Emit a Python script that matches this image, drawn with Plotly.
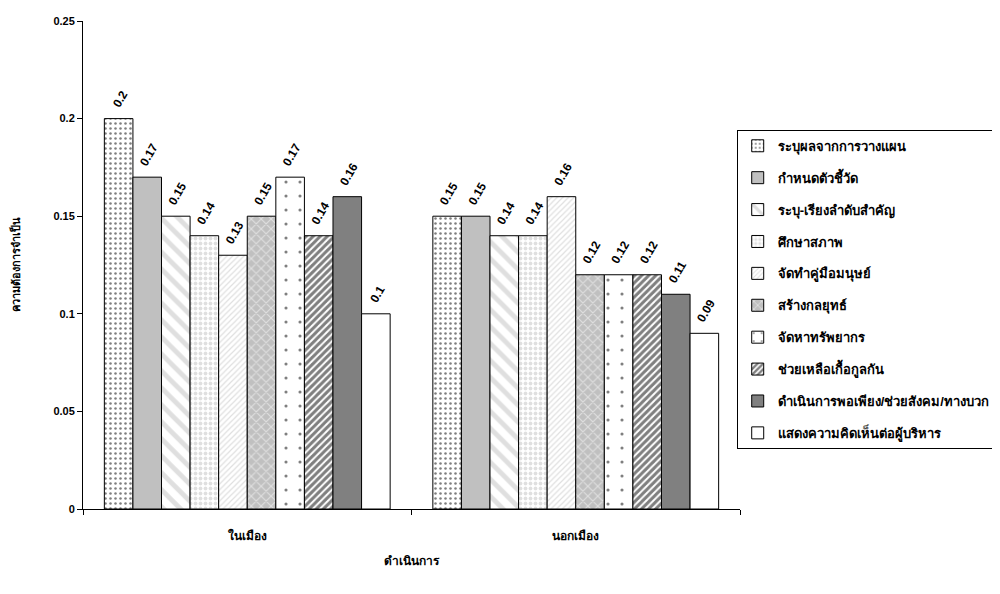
import plotly.graph_objects as go

areas = ["ในเมือง", "นอกเมือง"]

series_names = [
    "ระบุผลจากการวางแผน",
    "กำหนดตัวชี้วัด",
    "ระบุ-เรียงลำดับสำคัญ",
    "ศึกษาสภาพ",
    "จัดทำคู่มือมนุษย์",
    "สร้างกลยุทธ์",
    "จัดหาทรัพยากร",
    "ช่วยเหลือเกื้อกูลกัน",
    "ดำเนินการพอเพียง/ช่วยสังคม/ทางบวก",
    "แสดงความคิดเห็นต่อผู้บริหาร",
]

in_city = [0.2, 0.17, 0.15, 0.14, 0.13, 0.15, 0.17, 0.14, 0.16, 0.1]
out_city = [0.15, 0.15, 0.14, 0.14, 0.16, 0.12, 0.12, 0.12, 0.11, 0.09]

# fill look for each series (bg colour, pattern shape, pattern colour, size, solidity)
styles = [
    ("white", ".", "black", 5, 0.2),
    ("#c0c0c0", "", "black", 8, 0.3),
    ("white", "\\", "#c0c0c0", 12, 0.4),
    ("white", ".", "#c0c0c0", 5, 0.45),
    ("white", "/", "#c0c0c0", 4, 0.3),
    ("#c0c0c0", "x", "white", 7, 0.3),
    ("white", ".", "black", 14, 0.04),
    ("white", "/", "black", 5, 0.6),
    ("#808080", "", "black", 8, 0.3),
    ("white", "", "black", 8, 0.3),
]

font_family = "Liberation Sans, Arial, Noto Sans, sans-serif"

fig = go.Figure()
for i, name in enumerate(series_names):
    bg, shape, fg, size, sol = styles[i]
    vals = [in_city[i], out_city[i]]
    fig.add_trace(go.Bar(
        x=areas,
        y=vals,
        name=name,
        legendgroup=str(i),
        text=["\u00a0\u00a0<b>%s</b>" % v for v in vals],
        textposition="outside",
        textangle=-60,
        constraintext="none",
        textfont=dict(size=12, color="black", family=font_family),
        cliponaxis=False,
        marker=dict(
            color=bg,
            line=dict(color="black", width=1),
            pattern=dict(shape=shape, fgcolor=fg, bgcolor=bg, size=size, solidity=sol),
        ),
    ))

fig.update_layout(
    width=1000,
    height=594,
    barmode="group",
    bargap=0.13,
    bargroupgap=0,
    plot_bgcolor="white",
    paper_bgcolor="white",
    font=dict(family=font_family, size=11, color="black", weight="bold"),
    margin=dict(l=75, r=268, t=13, b=93, autoexpand=False),
    showlegend=True,
    legend=dict(
        x=0.995, y=0.777, xanchor="left", yanchor="top",
        bordercolor="black", borderwidth=1, bgcolor="white",
        font=dict(size=13, family=font_family, weight="bold"),
        tracegroupgap=12,
        traceorder="grouped",
        itemwidth=30,
    ),
)

fig.update_xaxes(
    showline=True, linecolor="black", linewidth=1,
    ticks="outside", tickson="boundaries", ticklen=5, tickcolor="black",
    ticklabelstandoff=16,
    title=dict(text="ดำเนินการ", standoff=14, font=dict(size=12, weight="bold")),
    tickfont=dict(size=12, weight="bold"),
)
fig.update_yaxes(
    range=[0, 0.25], dtick=0.05, showgrid=False, zeroline=False,
    showline=True, linecolor="black", linewidth=1,
    ticks="outside", ticklen=5, tickcolor="black",
    tickfont=dict(size=11, weight="bold"),
    title=dict(text="ความต้องการจำเป็น", standoff=30, font=dict(size=11, weight="bold")),
)

fig.write_html("out.html")
